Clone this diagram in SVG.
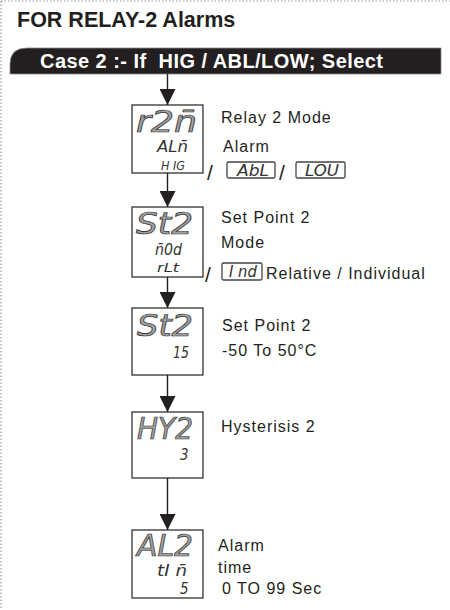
<svg xmlns="http://www.w3.org/2000/svg" width="450" height="610" viewBox="0 0 450 610">
<style>
.lbl{font-family:"Liberation Sans",Arial,sans-serif;font-size:16px;letter-spacing:1px;fill:#231f20}
.box{fill:#fff;stroke:#231f20;stroke-width:1.2}
.mbox{fill:#fff;stroke:#444;stroke-width:1.3}
.seg{font-family:"Liberation Sans Narrow","DejaVu Sans Condensed",sans-serif;font-style:italic;fill:#333}
.big{font-size:31px;fill:#a0a0a0;stroke:#333;stroke-width:0.7}
.mid{font-size:15px}
.sm{font-size:12px}
.slash{font-family:"Liberation Sans",Arial,sans-serif;font-size:21px;fill:#231f20}
.conn{stroke:#231f20;stroke-width:1.4;fill:none}
</style>
<defs>
<marker id="ah" markerWidth="16" markerHeight="16" refX="16" refY="8" orient="auto" markerUnits="userSpaceOnUse" viewBox="0 0 16 16">
<path d="M0,0 L16,8 L0,16 Z" fill="#231f20"/>
</marker>
</defs>
<g id="border">
<line x1="1" y1="1" x2="450" y2="1" stroke="#999" stroke-width="1.2" stroke-dasharray="1.5 2"/>
<line x1="1" y1="1" x2="1" y2="610" stroke="#999" stroke-width="1.2" stroke-dasharray="1.5 2"/>
</g>
<g id="title">
<text x="17" y="27" font-family="Liberation Sans,Arial,sans-serif" font-weight="bold" font-size="21.5" fill="#231f20">FOR RELAY-2 Alarms</text>
</g>
<g id="banner">
<path d="M10,74 L10,64 Q10,48 27,48 L441,48 L441,74 Z" fill="#231f20" stroke="#8a8a8a" stroke-width="0.8"/>
<text x="40" y="67.5" xml:space="preserve" font-family="Liberation Sans,Arial,sans-serif" font-weight="bold" font-size="20" fill="#fff" textLength="343" lengthAdjust="spacing">Case 2 :- If  HIG / ABL/LOW; Select</text>
</g>
<g id="connectors">
<line class="conn" x1="167.5" y1="74" x2="167.5" y2="105" marker-end="url(#ah)"/>
<line class="conn" x1="167.5" y1="173" x2="167.5" y2="207" marker-end="url(#ah)"/>
<line class="conn" x1="167.5" y1="277" x2="167.5" y2="308" marker-end="url(#ah)"/>
<line class="conn" x1="167.5" y1="375" x2="167.5" y2="412" marker-end="url(#ah)"/>
<line class="conn" x1="167.5" y1="478" x2="167.5" y2="530" marker-end="url(#ah)"/>
</g>
<g id="node-r2n">
<rect class="box" x="132" y="105" width="71" height="68"/>
<text class="seg big" x="136" y="132" textLength="61" lengthAdjust="spacingAndGlyphs">r2n̄</text>
<text class="seg mid" x="157" y="152" textLength="31" lengthAdjust="spacingAndGlyphs">ALn̄</text>
<text class="seg sm" x="161" y="170" xml:space="preserve" textLength="24" lengthAdjust="spacingAndGlyphs">H IG</text>
<text class="lbl" x="221" y="123">Relay 2 Mode</text>
<text class="lbl" x="223" y="152">Alarm</text>
<text class="slash" x="207" y="180">/</text>
<rect class="mbox" x="227" y="162" width="48" height="16" rx="1.5"/>
<text class="seg mid" x="237" y="176" textLength="32" lengthAdjust="spacingAndGlyphs">AbL</text>
<text class="slash" x="279" y="180">/</text>
<rect class="mbox" x="296" y="162" width="49" height="16" rx="1.5"/>
<text class="seg mid" x="305" y="176" textLength="34" lengthAdjust="spacingAndGlyphs">LOU</text>
</g>
<g id="node-st2-mode">
<rect class="box" x="132" y="207" width="71" height="70"/>
<text class="seg big" x="136" y="234" textLength="57" lengthAdjust="spacingAndGlyphs">St2</text>
<text class="seg mid" x="155" y="255" textLength="27" lengthAdjust="spacingAndGlyphs">n̄0d</text>
<text class="seg sm" x="157" y="272" textLength="22" lengthAdjust="spacingAndGlyphs">rLt</text>
<text class="lbl" x="221" y="223">Set Point 2</text>
<text class="lbl" x="221" y="248">Mode</text>
<text class="slash" x="205" y="282">/</text>
<rect class="mbox" x="222" y="263" width="40" height="17" rx="1.5"/>
<text class="seg mid" x="229" y="277" xml:space="preserve" textLength="28" lengthAdjust="spacingAndGlyphs">I nd</text>
<text class="lbl" x="266" y="279">Relative / Individual</text>
</g>
<g id="node-st2-value">
<rect class="box" x="132" y="308" width="71" height="67"/>
<text class="seg big" x="137" y="336" textLength="56" lengthAdjust="spacingAndGlyphs">St2</text>
<text class="seg mid" x="173" y="358" textLength="16" lengthAdjust="spacingAndGlyphs">15</text>
<text class="lbl" x="222" y="331">Set Point 2</text>
<text class="lbl" x="222" y="356">-50 To 50°C</text>
</g>
<g id="node-hy2">
<rect class="box" x="132" y="412" width="71" height="66"/>
<text class="seg big" x="137" y="439" textLength="56" lengthAdjust="spacingAndGlyphs">HY2</text>
<text class="seg mid" x="180" y="460">3</text>
<text class="lbl" x="221" y="432">Hysterisis 2</text>
</g>
<g id="node-al2">
<rect class="box" x="132" y="530" width="71" height="68"/>
<text class="seg big" x="137" y="556" textLength="56" lengthAdjust="spacingAndGlyphs">AL2</text>
<text class="seg mid" x="157" y="576" xml:space="preserve" textLength="30" lengthAdjust="spacingAndGlyphs">tI n̄</text>
<text class="seg mid" x="180" y="594">5</text>
<text class="lbl" x="218" y="551">Alarm</text>
<text class="lbl" x="218" y="573">time</text>
<text class="lbl" x="222" y="594">0 TO 99 Sec</text>
</g>
</svg>
